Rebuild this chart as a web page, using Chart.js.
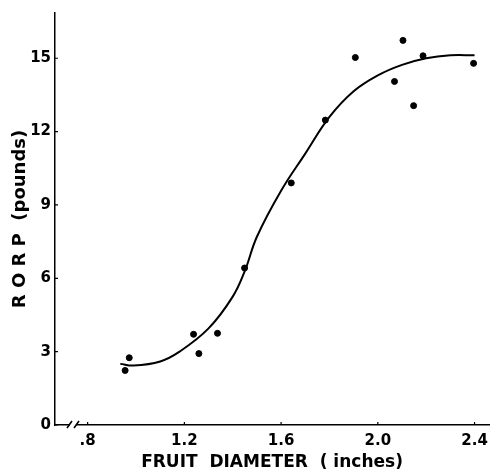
<!DOCTYPE html>
<html>
<head>
<meta charset="utf-8">
<script src="https://cdn.jsdelivr.net/npm/chart.js@4/dist/chart.umd.min.js"></script>
<style>
  html, body { margin: 0; padding: 0; background: #fff; }
  #wrap { width: 495px; height: 471px; }
</style>
</head>
<body>
<div id="wrap"><canvas id="rorpChart"></canvas></div>
<script>
// measured points
const diameter = [0.955, 0.972, 1.238, 1.26, 1.337, 1.449, 1.642, 1.783, 1.907, 2.069, 2.104, 2.148, 2.187, 2.396];
const rorp = [2.23, 2.75, 3.71, 2.92, 3.75, 6.42, 9.9, 12.47, 15.03, 14.05, 15.73, 13.06, 15.1, 14.79];

// fitted curve
const curveX = [0.935, 0.99, 1.1, 1.18, 1.3, 1.4, 1.45, 1.5, 1.6, 1.7, 1.8, 1.9, 2.0, 2.1, 2.2, 2.3, 2.4];
const curveY = [2.5, 2.43, 2.6, 3.0, 3.95, 5.25, 6.3, 7.7, 9.58, 11.1, 12.6, 13.65, 14.3, 14.73, 15.0, 15.12, 15.12];

// axis ticks
const xTickVals = [0.8, 1.2, 1.6, 2.0, 2.4];
const xTickLabels = ['.8', '1.2', '1.6', '2.0', '2.4'];
const yTickVals = [0, 3, 6, 9, 12, 15];

const tickFont = { family: 'DejaVu Sans', size: 15, weight: 'bold' };

// small inward tick marks and the "//" break on the x axis
const axisMarks = {
  id: 'axisMarks',
  afterDraw(chart) {
    const { ctx, chartArea, scales } = chart;
    ctx.save();
    ctx.strokeStyle = '#000';
    ctx.lineWidth = 1.2;
    ctx.beginPath();
    yTickVals.forEach(v => {
      const y = scales.y.getPixelForValue(v);
      ctx.moveTo(chartArea.left, y);
      ctx.lineTo(chartArea.left + 3, y);
    });
    xTickVals.forEach(v => {
      const x = scales.x.getPixelForValue(v);
      ctx.moveTo(x, chartArea.bottom);
      ctx.lineTo(x, chartArea.bottom - 3);
    });
    ctx.stroke();

    // axis break
    const bx = chartArea.left + 18;
    const by = chartArea.bottom;
    ctx.fillStyle = '#fff';
    ctx.fillRect(bx - 3, by - 2, 6, 4);
    ctx.lineWidth = 1.6;
    ctx.beginPath();
    ctx.moveTo(bx - 6, by + 3);
    ctx.lineTo(bx - 1, by - 4);
    ctx.moveTo(bx + 1, by + 3);
    ctx.lineTo(bx + 6, by - 4);
    ctx.stroke();
    ctx.restore();
  }
};

const ctx = document.getElementById('rorpChart').getContext('2d');

new Chart(ctx, {
  type: 'scatter',
  data: {
    datasets: [
      {
        label: 'RORP',
        data: diameter.map((d, i) => ({ x: d, y: rorp[i] })),
        backgroundColor: '#000',
        borderColor: '#000',
        pointRadius: 3,
        showLine: false
      },
      {
        label: 'Fit',
        data: curveX.map((d, i) => ({ x: d, y: curveY[i] })),
        showLine: true,
        borderColor: '#000',
        borderWidth: 2,
        pointRadius: 0,
        tension: 0.4
      }
    ]
  },
  options: {
    responsive: true,
    maintainAspectRatio: false,
    animation: false,
    layout: { padding: { left: 10, right: 5, top: 13, bottom: 0 } },
    plugins: {
      legend: { display: false },
      tooltip: { enabled: false }
    },
    scales: {
      x: {
        type: 'linear',
        min: 0.665,
        max: 2.46,
        afterBuildTicks: scale => {
          scale.ticks = xTickVals.map(v => ({ value: v }));
        },
        afterFit: scale => { scale.height = 46; },
        grid: { display: false, drawTicks: false, tickLength: 0 },
        border: { display: true, color: '#000', width: 1.5 },
        ticks: {
          color: '#000',
          font: tickFont,
          padding: 7,
          maxRotation: 0,
          callback: (v) => xTickLabels[xTickVals.indexOf(v)]
        },
        title: {
          display: true,
          text: 'FRUIT  DIAMETER  ( inches)',
          color: '#000',
          font: { family: 'DejaVu Sans', size: 17, weight: 'bold' },
          padding: { top: 0, bottom: -2 }
        }
      },
      y: {
        min: 0,
        max: 16.85,
        afterBuildTicks: scale => {
          scale.ticks = yTickVals.map(v => ({ value: v }));
        },
        afterFit: scale => { scale.width = 45; },
        grid: { display: false, drawTicks: false, tickLength: 0 },
        border: { display: true, color: '#000', width: 1.5 },
        ticks: {
          color: '#000',
          font: tickFont,
          padding: 4
        },
        title: {
          display: true,
          text: 'R O R P  (pounds)',
          color: '#000',
          font: { family: 'DejaVu Sans', size: 18, weight: 'bold' },
          padding: { top: 0, bottom: 0 }
        }
      }
    }
  },
  plugins: [axisMarks]
});
</script>
</body>
</html>
